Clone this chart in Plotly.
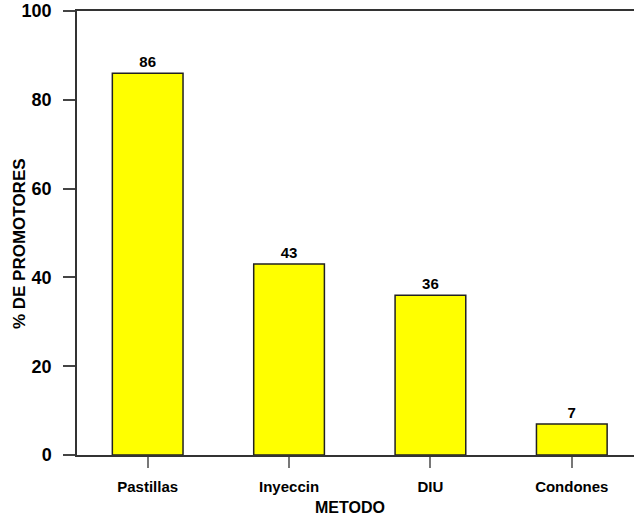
import plotly.graph_objects as go

# Métodos anticonceptivos conocidos por los promotores (%)
metodos = ["Pastillas", "Inyeccin", "DIU", "Condones"]
porcentajes = [86, 43, 36, 7]
y_ticks = [0, 20, 40, 60, 80, 100]

FONT = "Arial, Liberation Sans, sans-serif"

fig = go.Figure(
    go.Bar(
        x=metodos,
        y=porcentajes,
        width=0.5,
        marker=dict(color="#FFFF00", line=dict(color="#222222", width=1.5)),
        text=[str(v) for v in porcentajes],
        textposition="outside",
        textfont=dict(family=FONT, size=15, color="black", weight="bold"),
        cliponaxis=False,
    )
)

fig.update_layout(
    width=634,
    height=518,
    margin=dict(l=77, r=0, t=11, b=63),
    paper_bgcolor="white",
    plot_bgcolor="white",
    showlegend=False,
    font=dict(family=FONT, color="black"),
    xaxis=dict(
        range=[-0.5, 3.44],
        showline=True,
        linecolor="#333333",
        linewidth=1.5,
        mirror=True,
        ticks="outside",
        ticklen=11,
        tickwidth=1.5,
        tickcolor="#777777",
        tickfont=dict(family=FONT, size=15, color="black", weight="bold"),
        showgrid=False,
        zeroline=False,
        ticklabelstandoff=6,
    ),
    yaxis=dict(
        range=[0, 100],
        tickvals=y_ticks,
        showline=True,
        linecolor="#333333",
        linewidth=1.5,
        ticks="outside",
        ticklen=12,
        tickwidth=1.5,
        tickcolor="#444444",
        tickfont=dict(family=FONT, size=18, color="black", weight="bold"),
        showgrid=False,
        zeroline=False,
        ticklabelstandoff=8,
    ),
    annotations=[
        dict(
            text="METODO",
            xref="paper", yref="paper",
            x=0.49, y=0, yshift=-52,
            xanchor="center", yanchor="middle",
            showarrow=False,
            font=dict(family=FONT, size=16, color="black", weight="bold"),
        ),
        dict(
            text="% DE PROMOTORES",
            xref="paper", yref="paper",
            x=0, xshift=-58, y=0.475,
            xanchor="center", yanchor="middle",
            textangle=-90,
            showarrow=False,
            font=dict(family=FONT, size=17, color="black", weight="bold"),
        ),
    ],
)

fig.write_html("out.html")
